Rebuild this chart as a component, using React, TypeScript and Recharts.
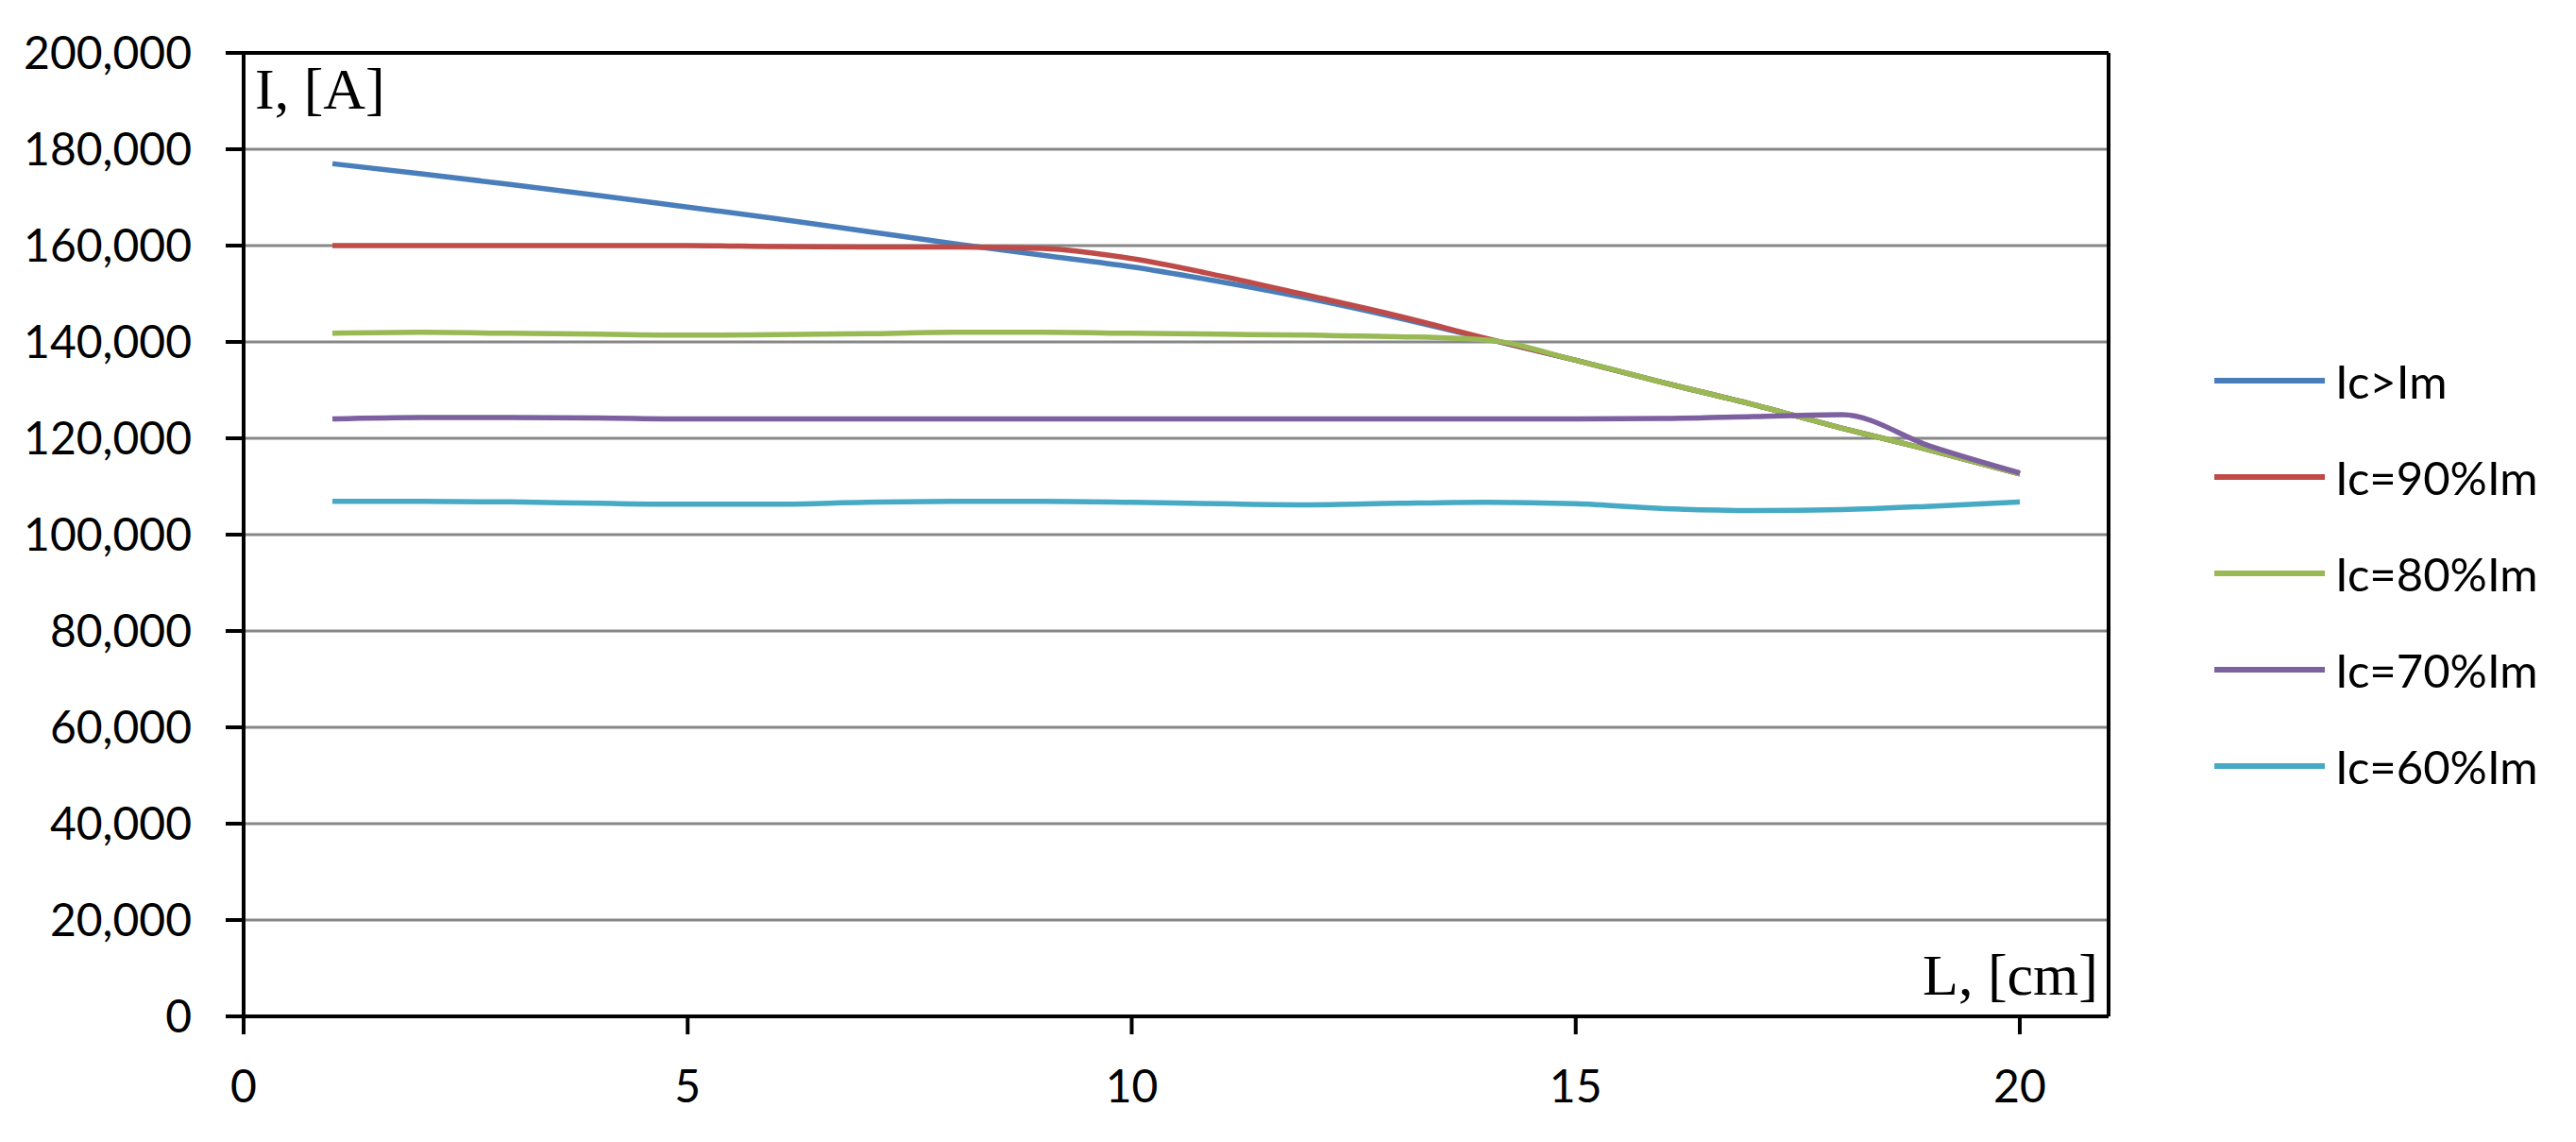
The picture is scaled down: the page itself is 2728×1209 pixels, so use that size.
import React from 'react';
import { LineChart, Line, XAxis, YAxis, CartesianGrid, ReferenceLine, Legend } from 'recharts';

const LENGTHS = [1, 2, 3, 4, 5, 6, 7, 8, 9, 10, 11, 12, 13, 14, 15, 16, 17, 18, 19, 20];
const IC_GT_IM = [177000, 174900, 172700, 170400, 168000, 165600, 163000, 160400, 158000, 155600, 152500, 149000, 145000, 140600, 136200, 131500, 127000, 122100, 117500, 112600];
const IC_90 = [160000, 160000, 160000, 160000, 160000, 159800, 159700, 159700, 159400, 157300, 153700, 149600, 145400, 140700, 136200, 131500, 127000, 122100, 117500, 112600];
const IC_80 = [141800, 142000, 141800, 141600, 141400, 141500, 141700, 142000, 142000, 141800, 141600, 141400, 141100, 140400, 136200, 131500, 127000, 122100, 117500, 112600];
const IC_70 = [124000, 124300, 124300, 124200, 124000, 124000, 124000, 124000, 124000, 124000, 124000, 124000, 124000, 124000, 124000, 124100, 124500, 124900, 118300, 112800];
const IC_60 = [106900, 106900, 106800, 106500, 106300, 106300, 106700, 106900, 106900, 106700, 106400, 106200, 106500, 106700, 106400, 105400, 105000, 105200, 105900, 106800];

const SERIES_NAMES = ['Ic>Im', 'Ic=90%Im', 'Ic=80%Im', 'Ic=70%Im', 'Ic=60%Im'];
const SERIES_KEYS = ['s1', 's2', 's3', 's4', 's5'];
const SERIES_COLORS = ['#4A7EBB', '#BE4B48', '#98B954', '#7D60A0', '#46AAC5'];
const SERIES_VALUES = [IC_GT_IM, IC_90, IC_80, IC_70, IC_60];

const Y_TICKS = [0, 20000, 40000, 60000, 80000, 100000, 120000, 140000, 160000, 180000, 200000];
const X_TICKS = [0, 5, 10, 15, 20];
const X_MAX = 21;
const Y_MAX = 200000;

const data = LENGTHS.map((x, i) => {
  const row: Record<string, number> = { x };
  SERIES_KEYS.forEach((k, j) => {
    row[k] = SERIES_VALUES[j][i];
  });
  return row;
});

const SANS = 'Lato, "Noto Sans", sans-serif';
const SERIF = '"Liberation Serif", "DejaVu Serif", serif';

const LegendContent = () => (
  <div style={{ width: 380 }}>
    {SERIES_NAMES.map((name, i) => (
      <div key={name} style={{ height: 102, display: 'flex', alignItems: 'center' }}>
        <div style={{ width: 117, height: 6, background: SERIES_COLORS[i], marginRight: 11 }} />
        <span style={{ fontFamily: SANS, fontSize: 49, color: '#000', lineHeight: 1 }}>{name}</span>
      </div>
    ))}
  </div>
);

const YTitle = (props: any) => {
  const vb = props.viewBox || { x: 0, y: 48, width: 250, height: 1020 };
  return (
    <text x={vb.x + vb.width + 12} y={vb.y + 59} fontFamily={SERIF} fontSize={62} fill="#000" textAnchor="start">
      I, [A]
    </text>
  );
};

const XTitle = (props: any) => {
  const vb = props.viewBox || { x: 250, y: 1068, width: 1975, height: 125 };
  return (
    <text x={vb.x + vb.width - 11} y={vb.y - 23} fontFamily={SERIF} fontSize={62} fill="#000" textAnchor="end">
      L, [cm]
    </text>
  );
};

export default function App() {
  return (
    <LineChart
      width={2712}
      height={1193}
      data={data}
      margin={{ top: 48, right: 107, bottom: 0, left: 0 }}
      style={{ background: '#fff' }}
    >
      <CartesianGrid vertical={false} stroke="#878787" strokeWidth={3} />
      <XAxis
        dataKey="x"
        type="number"
        domain={[0, X_MAX]}
        ticks={X_TICKS}
        height={125}
        tickSize={19}
        tickMargin={38}
        axisLine={{ stroke: '#000', strokeWidth: 4 }}
        tickLine={{ stroke: '#000', strokeWidth: 4 }}
        tick={{ fill: '#000', fontSize: 48, fontFamily: SANS }}
        label={<XTitle />}
      />
      <YAxis
        type="number"
        domain={[0, Y_MAX]}
        ticks={Y_TICKS}
        width={250}
        tickSize={19}
        tickMargin={36}
        tickFormatter={(v: number) => v.toLocaleString('en-US')}
        axisLine={{ stroke: '#000', strokeWidth: 4 }}
        tickLine={{ stroke: '#000', strokeWidth: 4 }}
        tick={{ fill: '#000', fontSize: 48, fontFamily: SANS }}
        label={<YTitle />}
      />
      <ReferenceLine y={Y_MAX} stroke="#000" strokeWidth={4} />
      <ReferenceLine x={X_MAX} stroke="#000" strokeWidth={4} />
      {SERIES_KEYS.map((k, i) => (
        <Line
          key={k}
          dataKey={k}
          name={SERIES_NAMES[i]}
          type="monotone"
          stroke={SERIES_COLORS[i]}
          strokeWidth={5.5}
          dot={false}
          activeDot={false}
          isAnimationActive={false}
        />
      ))}
      <Legend
        layout="vertical"
        align="right"
        verticalAlign="middle"
        width={380}
        content={<LegendContent />}
        wrapperStyle={{ left: 2337, top: 344, right: 'auto' }}
      />
    </LineChart>
  );
}
